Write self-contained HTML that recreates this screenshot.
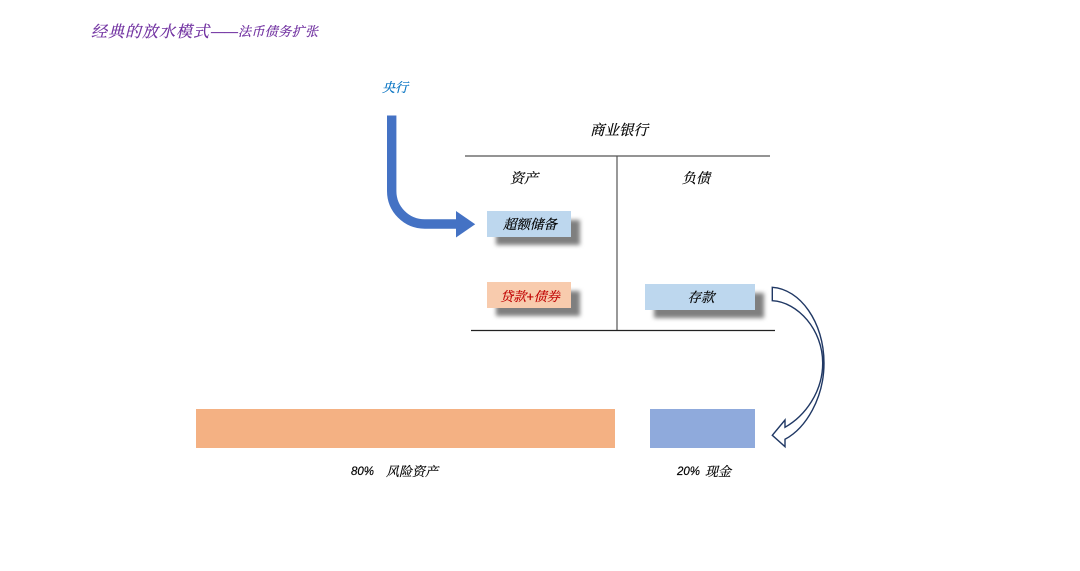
<!DOCTYPE html>
<html lang="zh">
<head>
<meta charset="utf-8">
<style>
html,body{margin:0;padding:0;background:#fff;}
#p{position:relative;width:1080px;height:571px;overflow:hidden;background:#fff;}
svg{position:absolute;left:0;top:0;}
.t{position:absolute;white-space:nowrap;font-family:"Liberation Sans","Noto Serif CJK SC",serif;font-style:italic;line-height:1;transform:translateX(-50%);text-align:center;color:#000;-webkit-text-stroke:.2px currentColor;}
.l{transform:none;text-align:left;}
.b{position:absolute;}
.s{position:absolute;background:#7f7f7f;filter:blur(2.2px);}
</style>
</head>
<body>
<div id="p">
<div class="t l" style="left:91px;top:25px;font-size:16px;color:#7030a0;letter-spacing:1px;">经典的放水模式</div>
<div class="t l" style="left:211px;top:25px;font-size:13.500px;color:#7030a0;letter-spacing:0;">——</div>
<div class="t l" style="left:238px;top:25px;font-size:13px;color:#7030a0;letter-spacing:.4px;">法币债务扩张</div>
<div class="t" style="left:395px;top:81px;font-size:13px;color:#0070c0;">央行</div>
<div class="t" style="left:619px;top:124px;font-size:14.500px;">商业银行</div>
<div class="t" style="left:524px;top:171px;font-size:14px;">资产</div>
<div class="t" style="left:696px;top:171px;font-size:14px;">负债</div>

<div class="s" style="left:496px;top:220px;width:84px;height:25px;"></div>
<div class="b" style="left:487px;top:211px;width:84px;height:26px;background:#bdd7ee;"></div>
<div class="t" style="left:530px;top:218px;font-size:13.500px;">超额储备</div>

<div class="s" style="left:496px;top:291px;width:84px;height:25px;"></div>
<div class="b" style="left:487px;top:282px;width:84px;height:26px;background:#f8cbad;"></div>
<div class="t" style="left:530px;top:290px;font-size:13px;color:#c00000;">贷款+债券</div>

<div class="s" style="left:654px;top:293px;width:110px;height:25px;"></div>
<div class="b" style="left:645px;top:284px;width:110px;height:26px;background:#bdd7ee;"></div>
<div class="t" style="left:701px;top:291px;font-size:13.500px;">存款</div>

<svg width="1080" height="571" viewBox="0 0 1080 571">
<line x1="465" y1="156" x2="770" y2="156" stroke="#555" stroke-width="1.200"/>
<line x1="617" y1="156" x2="617" y2="330" stroke="#555" stroke-width="1.200"/>
<line x1="471" y1="330.500" x2="775" y2="330.500" stroke="#222" stroke-width="1.200"/>
<path d="M391.700 115.500V191A33 33 0 0 0 424.700 224H458" fill="none" stroke="#4472c4" stroke-width="9.400"/>
<polygon points="456,211 475.200,224.200 456,237.500" fill="#4472c4"/>
<path d="M772.300 287.300C800 289 824 322 824 363C824 398 806 428 785 439.300L785 446.700L772.300 435.300L785 420L785 427.300C805 416 822.700 392 822.700 363C822.700 330 798 302 772.300 300.700Z" fill="#fff" stroke="#203864" stroke-width="1.400" stroke-linejoin="miter"/>
</svg>

<div class="b" style="left:196px;top:409px;width:419px;height:39px;background:#f4b183;"></div>
<div class="b" style="left:650px;top:409px;width:105px;height:39px;background:#8faadc;"></div>
<div class="t l" style="left:351px;top:467px;font-size:11.500px;">80%</div>
<div class="t l" style="left:386px;top:465px;font-size:13px;">风险资产</div>
<div class="t l" style="left:677px;top:467px;font-size:11.500px;">20%</div>
<div class="t l" style="left:705px;top:465px;font-size:13px;">现金</div>
</div>
</body>
</html>
